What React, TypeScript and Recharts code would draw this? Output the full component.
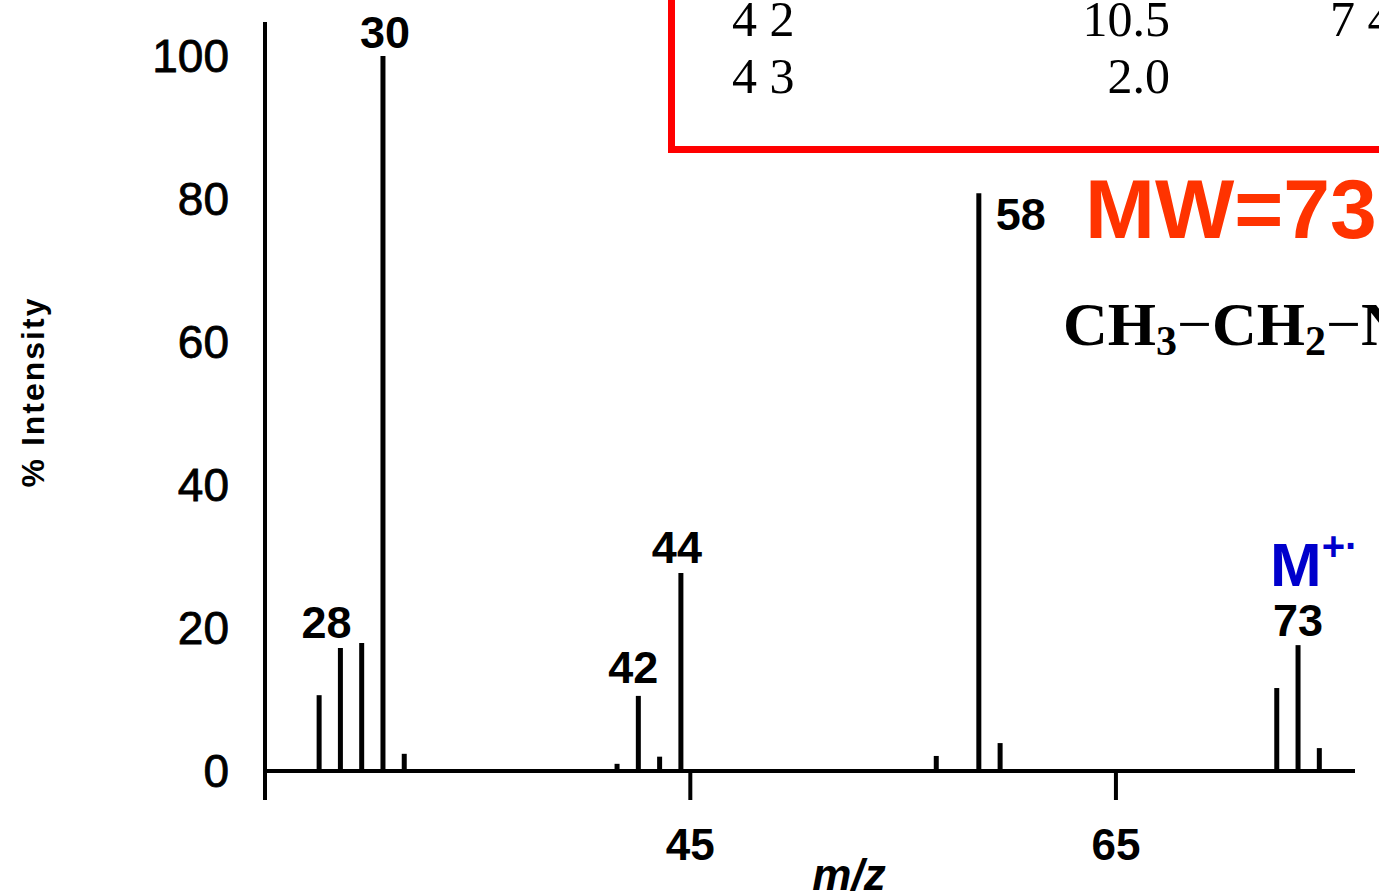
import { ComposedChart, Bar, XAxis, YAxis, ReferenceLine, LabelList } from 'recharts';

// m/z peaks
const PEAK_MZ = [27, 28, 29, 30, 31, 41, 42, 43, 44, 56, 58, 59, 72, 73, 74];
const PEAK_INTENSITY = [10.6, 17.2, 17.9, 100, 2.4, 1.0, 10.5, 2.0, 27.7, 2.1, 80.8, 3.9, 11.6, 17.6, 3.2];
const PEAK_LABELS = ['', '28', '', '30', '', '', '42', '', '44', '', '58', '', '', '73', ''];

const X_TICKS = [45, 65];
const Y_TICKS = [0, 20, 40, 60, 80, 100];

// table fragment in the red box
const TABLE_ROWS = [
  { mz: '4 2', rel: '10.5', next: '7 4' },
  { mz: '4 3', rel: '2.0', next: '' },
];

const data = PEAK_MZ.map((mz, i) => ({ mz, intensity: PEAK_INTENSITY[i], label: PEAK_LABELS[i] }));

// label placement relative to the top of each bar
const LABEL_OFFSETS: Record<string, { dx: number; dy: number; anchor: string }> = {
  '28': { dx: -14, dy: -10, anchor: 'middle' },
  '30': { dx: 2, dy: -8, anchor: 'middle' },
  '42': { dx: -5, dy: -13, anchor: 'middle' },
  '44': { dx: -4, dy: -10, anchor: 'middle' },
  '58': { dx: 17, dy: 37, anchor: 'start' },
  '73': { dx: 0, dy: -9, anchor: 'middle' },
};

const SANS = '"Liberation Sans", Arial, Helvetica, sans-serif';
const SERIF = '"Liberation Serif", "Times New Roman", serif';
const TICK_SHIFT = -12;

function PeakLabel(props: any) {
  const { x, y, width, value } = props;
  if (!value) return null;
  const o = LABEL_OFFSETS[value] || { dx: 0, dy: -10, anchor: 'middle' };
  return (
    <text
      x={x + width / 2 + o.dx}
      y={y + o.dy}
      textAnchor={o.anchor}
      fontFamily={SANS}
      fontWeight="bold"
      fontSize={45}
      fill="#000"
    >
      {value}
    </text>
  );
}

function MzTick(props: any) {
  const { x, y, payload } = props;
  const tx = x + TICK_SHIFT;
  return (
    <g>
      <line x1={tx} x2={tx} y1={y - 27} y2={y} stroke="#000" strokeWidth={4} />
      <text x={tx} y={y + 60} textAnchor="middle" fontFamily={SANS} fontWeight="bold" fontSize={44} fill="#000">
        {payload.value}
      </text>
    </g>
  );
}

export default function App() {
  return (
    <div style={{ position: 'fixed', left: 0, top: 0, width: 1379, height: 894, overflow: 'hidden', background: '#fff' }}>
      <ComposedChart
        width={1379}
        height={894}
        data={data}
        margin={{ top: 22, right: 24, bottom: 0, left: 0 }}
      >
        <XAxis
          type="number"
          dataKey="mz"
          domain={[24.45, 75.67]}
          allowDataOverflow
          ticks={X_TICKS}
          axisLine={false}
          tickLine={false}
          tickSize={0}
          tickMargin={0}
          height={94}
          tick={<MzTick />}
        />
        <YAxis
          type="number"
          domain={[-4.06, 104.75]}
          allowDataOverflow
          ticks={Y_TICKS}
          width={265}
          axisLine={{ stroke: '#000', strokeWidth: 4 }}
          tickLine={false}
          tickSize={0}
          tickMargin={36}
          tick={{ fill: '#000', fontSize: 46, fontFamily: SANS, stroke: '#000', strokeWidth: 0.8 }}
        />
        <ReferenceLine y={0} stroke="#000" strokeWidth={4} />
        <Bar dataKey="intensity" fill="#000" barSize={5} isAnimationActive={false}>
          <LabelList dataKey="label" content={<PeakLabel />} />
        </Bar>
      </ComposedChart>

      <svg width={1379} height={894} style={{ position: 'absolute', left: 0, top: 0, pointerEvents: 'none' }}>
        {/* red box with the table fragment */}
        <rect x={671.5} y={-20} width={800} height={169.5} fill="none" stroke="#ff0000" strokeWidth={7} />
        {TABLE_ROWS.map((r, i) => (
          <g key={r.mz} fontFamily={SERIF} fontSize={50} fill="#000">
            <text x={732} y={36 + i * 57}>{r.mz}</text>
            <text x={1170} y={36 + i * 57} textAnchor="end">{r.rel}</text>
            {r.next && <text x={1330} y={36 + i * 57}>{r.next}</text>}
          </g>
        ))}

        <text x={1085} y={238} fontFamily={SANS} fontWeight="bold" fontSize={84} fill="#ff3300">MW=73</text>

        <text x={1063} y={345} fontFamily={SERIF} fontWeight="bold" fontSize={62} fill="#000">
          CH<tspan fontSize={42} dy={10}>3</tspan>
          <tspan dy={-10} fontWeight="normal">−</tspan>CH<tspan fontSize={42} dy={10}>2</tspan>
          <tspan dy={-10} fontWeight="normal">−</tspan>NH−CH<tspan fontSize={42} dy={10}>2</tspan>
          <tspan dy={-10}>−CH</tspan><tspan fontSize={42} dy={10}>3</tspan>
        </text>

        <text x={1270} y={586} fontFamily={SANS} fontWeight="bold" fontSize={62} fill="#0000cc">
          M<tspan fontSize={40} dy={-26}>+·</tspan>
        </text>

        <text
          x={0}
          y={0}
          transform="translate(44 392) rotate(-90)"
          textAnchor="middle"
          fontFamily={SANS}
          fontWeight="bold"
          fontSize={32}
          letterSpacing={2}
          fill="#000"
        >
          % Intensity
        </text>

        <text x={849} y={890} textAnchor="middle" fontFamily={SANS} fontWeight="bold" fontStyle="italic" fontSize={44} fill="#000">
          m/z
        </text>
      </svg>
    </div>
  );
}
